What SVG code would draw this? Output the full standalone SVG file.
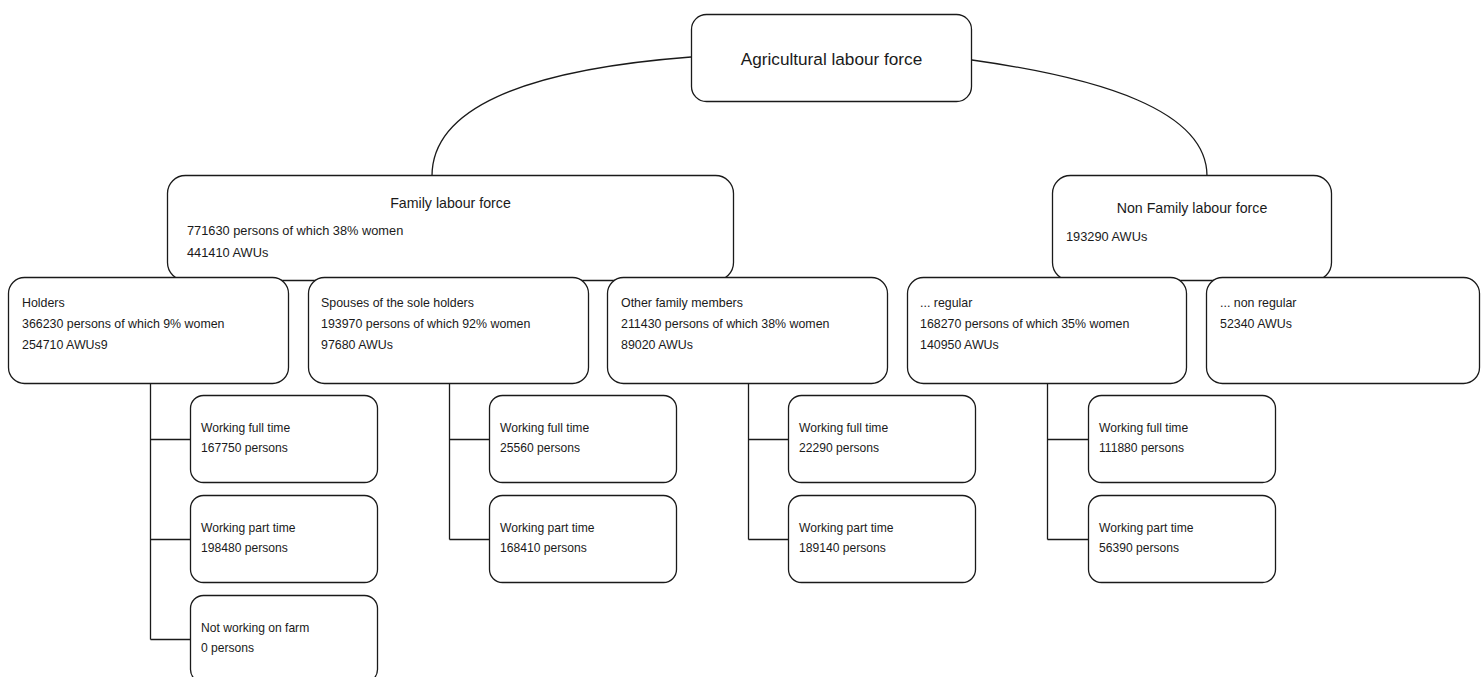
<svg xmlns="http://www.w3.org/2000/svg" width="1482" height="677" viewBox="0 0 1482 677">
<style>
.box{fill:#fff;stroke:#1a1a1a;stroke-width:1.3}
.con{fill:none;stroke:#1a1a1a;stroke-width:1.3}
text{font-family:"Liberation Sans",Arial,sans-serif;fill:#1a1a1a}
.top{font-size:17.2px;text-anchor:middle}
.title{font-size:14.2px;text-anchor:middle}
.pb{font-size:12.8px}
.rb{font-size:12.4px}
.cb{font-size:12.1px}
</style>
<rect width="1482" height="677" fill="#fff"/>
<g id="connectors">
<path class="con" d="M691,57 C520,70 432,110 432,176"/>
<path class="con" d="M972,60 C1100,78 1207,110 1207,176"/>
<path class="con" d="M150.5,383 V639.5 M150.5,439.5 H191 M150.5,539.5 H191 M150.5,639.5 H191"/>
<path class="con" d="M449.5,383 V539.5 M449.5,439.5 H490 M449.5,539.5 H490"/>
<path class="con" d="M748.5,383 V539.5 M748.5,439.5 H789 M748.5,539.5 H789"/>
<path class="con" d="M1047.5,383 V539.5 M1047.5,439.5 H1089 M1047.5,539.5 H1089"/>
</g>
<g id="n-agri">
<rect class="box" x="691.5" y="14.5" width="280" height="87" rx="15"/>
<text class="top" x="831.5" y="65">Agricultural labour force</text>
</g>
<g id="n-family">
<rect class="box" x="167.5" y="175.5" width="566" height="105" rx="18"/>
<text class="title" x="450.5" y="208">Family labour force</text>
<text class="pb" x="187" y="235">771630 persons of which 38% women</text>
<text class="pb" x="187" y="257">441410 AWUs</text>
</g>
<g id="n-nonfamily">
<rect class="box" x="1052.5" y="175.5" width="279" height="105" rx="18"/>
<text class="title" x="1192" y="213">Non Family labour force</text>
<text class="pb" x="1066" y="241">193290 AWUs</text>
</g>
<g id="n-holders">
<rect class="box" x="8.5" y="277.5" width="280" height="106" rx="16"/>
<text class="rb" x="22" y="307">Holders</text>
<text class="rb" x="22" y="328">366230 persons of which 9% women</text>
<text class="rb" x="22" y="349">254710 AWUs9</text>
</g>
<g id="n-spouses">
<rect class="box" x="308.5" y="277.5" width="280" height="106" rx="16"/>
<text class="rb" x="321" y="307">Spouses of the sole holders</text>
<text class="rb" x="321" y="328">193970 persons of which 92% women</text>
<text class="rb" x="321" y="349">97680 AWUs</text>
</g>
<g id="n-other">
<rect class="box" x="607.5" y="277.5" width="280" height="106" rx="16"/>
<text class="rb" x="621" y="307">Other family members</text>
<text class="rb" x="621" y="328">211430 persons of which 38% women</text>
<text class="rb" x="621" y="349">89020 AWUs</text>
</g>
<g id="n-regular">
<rect class="box" x="907.5" y="277.5" width="279" height="106" rx="16"/>
<text class="rb" x="920" y="307">... regular</text>
<text class="rb" x="920" y="328">168270 persons of which 35% women</text>
<text class="rb" x="920" y="349">140950 AWUs</text>
</g>
<g id="n-nonregular">
<rect class="box" x="1206.5" y="277.5" width="273" height="106" rx="16"/>
<text class="rb" x="1220" y="307">... non regular</text>
<text class="rb" x="1220" y="328">52340 AWUs</text>
</g>
<g id="n-h-full">
<rect class="box" x="190.5" y="395.5" width="187" height="87" rx="13"/>
<text class="cb" x="201" y="432">Working full time</text>
<text class="cb" x="201" y="452">167750 persons</text>
</g>
<g id="n-h-part">
<rect class="box" x="190.5" y="495.5" width="187" height="87" rx="13"/>
<text class="cb" x="201" y="532">Working part time</text>
<text class="cb" x="201" y="552">198480 persons</text>
</g>
<g id="n-h-not">
<rect class="box" x="190.5" y="595.5" width="187" height="87" rx="13"/>
<text class="cb" x="201" y="632">Not working on farm</text>
<text class="cb" x="201" y="652">0 persons</text>
</g>
<g id="n-s-full">
<rect class="box" x="489.5" y="395.5" width="187" height="87" rx="13"/>
<text class="cb" x="500" y="432">Working full time</text>
<text class="cb" x="500" y="452">25560 persons</text>
</g>
<g id="n-s-part">
<rect class="box" x="489.5" y="495.5" width="187" height="87" rx="13"/>
<text class="cb" x="500" y="532">Working part time</text>
<text class="cb" x="500" y="552">168410 persons</text>
</g>
<g id="n-o-full">
<rect class="box" x="788.5" y="395.5" width="187" height="87" rx="13"/>
<text class="cb" x="799" y="432">Working full time</text>
<text class="cb" x="799" y="452">22290 persons</text>
</g>
<g id="n-o-part">
<rect class="box" x="788.5" y="495.5" width="187" height="87" rx="13"/>
<text class="cb" x="799" y="532">Working part time</text>
<text class="cb" x="799" y="552">189140 persons</text>
</g>
<g id="n-r-full">
<rect class="box" x="1088.5" y="395.5" width="187" height="87" rx="13"/>
<text class="cb" x="1099" y="432">Working full time</text>
<text class="cb" x="1099" y="452">111880 persons</text>
</g>
<g id="n-r-part">
<rect class="box" x="1088.5" y="495.5" width="187" height="87" rx="13"/>
<text class="cb" x="1099" y="532">Working part time</text>
<text class="cb" x="1099" y="552">56390 persons</text>
</g>
</svg>
